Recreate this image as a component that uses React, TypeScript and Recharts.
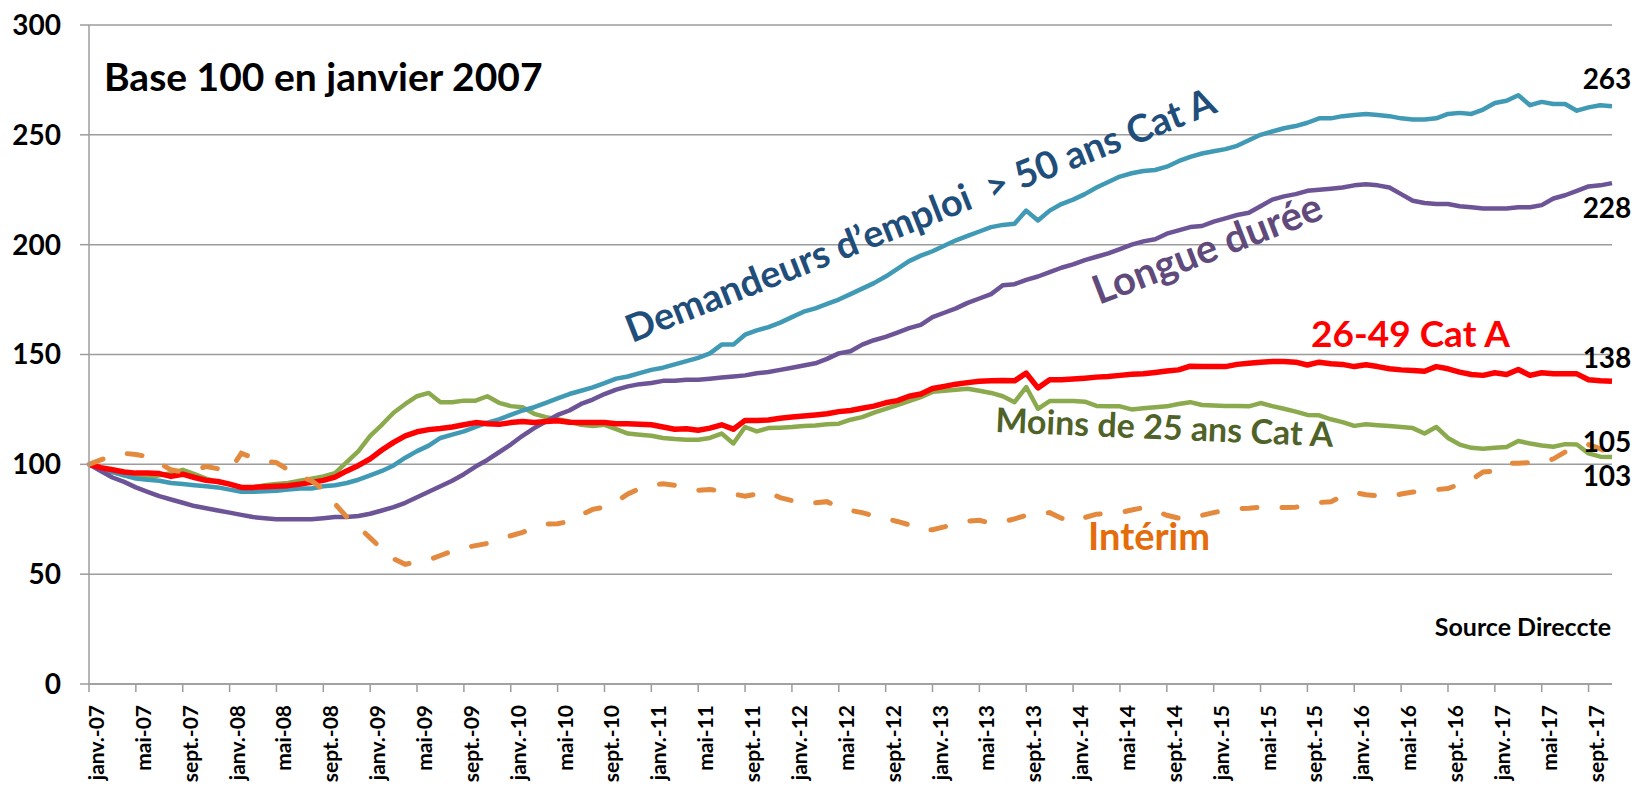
import React from "react";
import {
  LineChart,
  Line,
  XAxis,
  YAxis,
  CartesianGrid,
  LabelList,
  Customized,
} from "recharts";

// mois janv.-07 -> nov.-17
const MONTHS = ["janv.", "févr.", "mars", "avr.", "mai", "juin", "juil.", "août", "sept.", "oct.", "nov.", "déc."];
const YEARS = ["07", "08", "09", "10", "11", "12", "13", "14", "15", "16", "17"];
const categories = YEARS.flatMap((y) => MONTHS.map((m) => `${m}-${y}`)).slice(0, 131);

const yTicks = [0, 50, 100, 150, 200, 250, 300];

// Demandeurs d'emploi > 50 ans Cat A
const plus50 = [
  100, 98, 96.5, 95, 93.5, 93, 92.5, 91.5, 91, 90.5, 90, 89.5, 88.5, 87.5, 87.5, 87.8, 88, 88.5, 89, 89,
  90, 90.5, 91.5, 93, 95, 97, 99.5, 103, 106, 108.5, 112, 113.5, 115, 117, 119, 120.5, 122.5, 124.5, 126, 128,
  130, 132, 133.5, 135, 137, 139, 140, 141.5, 143, 144, 145.5, 147, 148.5, 150.5, 154.5, 154.5, 159, 161, 162.5, 164.5,
  167, 169.5, 171, 173, 175, 177.5, 180, 182.5, 185.5, 189, 192.5, 195, 197, 199.5, 202, 204, 206, 208, 209, 209.5,
  215.5, 211, 215.5, 218.5, 220.5, 223, 226, 228.5, 231, 232.5, 233.5, 234, 235.5, 238, 240, 241.5, 242.5, 243.5, 245, 247.5,
  250, 251.5, 253, 254, 255.5, 257.5, 257.5, 258.5, 259, 259.5, 259, 258.5, 257.5, 257, 257, 257.5, 259.5, 260, 259.5, 261.5,
  264.5, 265.5, 268, 263.5, 265, 264, 264, 261, 262.5, 263.5, 263,
];

// Longue durée
const longueDuree = [
  100, 97, 94, 92, 89.5, 87.5, 85.5, 84, 82.5, 81, 80, 79, 78, 77, 76, 75.5, 75, 75, 75, 75,
  75.5, 76, 76, 76.5, 77.5, 79, 80.5, 82.5, 85, 87.5, 90, 92.5, 95.5, 99, 102, 105.5, 109, 113, 116.5, 119.5,
  122.5, 124.5, 127.5, 129.5, 132, 134, 135.5, 136.5, 137, 138, 138, 138.5, 138.5, 139, 139.5, 140, 140.5, 141.5, 142, 143,
  144, 145, 146, 148, 150.5, 151.5, 154.5, 156.5, 158, 160, 162, 163.5, 167, 169, 171, 173.5, 175.5, 177.5, 181.5, 182,
  184, 185.5, 187.5, 189.5, 191, 193, 194.5, 196, 198, 200, 201.5, 202.5, 205, 206.5, 208, 208.5, 210.5, 212, 213.5, 214.5,
  217.5, 220.5, 222, 223, 224.5, 225, 225.5, 226, 227, 227.5, 227, 226, 223, 220, 219, 218.5, 218.5, 217.5, 217, 216.5,
  216.5, 216.5, 217, 217, 218, 221, 222.5, 224.5, 226.5, 227, 228,
];

// 26-49 Cat A
const age2649 = [
  100, 98.5, 97.5, 96.5, 96, 96, 95.8, 94.5, 95.5, 94, 92.7, 92.2, 91, 89.5, 89.5, 89.8, 90, 90.3, 91, 91.8,
  92.7, 94.2, 97, 99.5, 102.5, 106.5, 110, 113, 114.8, 115.8, 116.3, 117, 118, 119, 118.5, 118.2, 119, 119.5, 119, 119.5,
  119.8, 119.2, 119, 119, 119, 118.5, 118.5, 118.2, 118, 117, 116, 116.2, 115.5, 116.5, 118, 116, 120, 120, 120.2, 121,
  121.5, 122, 122.5, 123, 124, 124.5, 125.5, 126.5, 128, 129, 131, 132, 134.5, 135.5, 136.5, 137.2, 137.8, 138, 138.2, 138,
  141.5, 134.8, 138.5, 138.5, 138.8, 139.2, 139.7, 140, 140.5, 141, 141.2, 141.8, 142.5, 143, 144.7, 144.5, 144.5, 144.5, 145.5, 146,
  146.5, 146.8, 146.8, 146.5, 145.2, 146.5, 145.8, 145.5, 144.5, 145.3, 144.5, 143.5, 143, 142.7, 142.4, 144.5, 143.5, 142, 140.9, 140.5,
  141.7, 140.9, 143.2, 140.5, 141.7, 141.2, 141.2, 141.2, 138.5, 138, 137.8,
];

// Moins de 25 ans Cat A
const moins25 = [
  100, 98, 96.5, 95, 94, 94, 95, 96, 97.5, 95.5, 93.5, 92, 91, 89.5, 89.5, 90.5, 91, 91.5, 92.5, 93.5,
  94.5, 96, 101, 106, 113, 118, 123.5, 127.5, 131, 132.5, 128.3, 128.3, 129, 129, 131, 128, 126.5, 126, 123, 121.5,
  120.5, 119.5, 118, 117.5, 118, 116, 114, 113.5, 113, 112, 111.5, 111.2, 111.2, 112, 114, 109.5, 117, 115, 116.5, 116.7,
  117, 117.5, 117.7, 118.2, 118.5, 120.3, 121.5, 123.5, 125.3, 127, 128.8, 130.6, 133, 133.5, 134, 134.4, 133.5, 132.5, 131, 128.3,
  135.2, 125.3, 128.8, 128.8, 128.8, 128.5, 126.6, 126.4, 126.4, 125, 125.5, 126, 126.4, 127.5, 128.3, 127, 126.8, 126.6, 126.5, 126.4,
  127.9, 126.5, 125.3, 124, 122.5, 122.3, 120.5, 119.2, 117.5, 118.2, 117.8, 117.4, 117, 116.5, 114, 117, 112, 109, 107.5, 107.1,
  107.5, 107.9, 110.6, 109.5, 108.6, 108, 109.2, 109, 105, 103.5, 103.3,
];

// Intérim
const interim = [
  100, 102, 104, 105, 104.5, 103.5, 100.5, 97.5, 96.5, 97.5, 99, 98, 97, 105, 103, 101.5, 100.8, 97.5, 94.5, 92.5,
  88.5, 82, 76, 71.5, 66.5, 61.5, 57, 54.5, 55.5, 56.5, 58.5, 60.5, 62, 63, 64, 66, 67.5, 69, 71, 72.8,
  73, 74, 77, 79.5, 80.5, 83, 86.5, 89, 90.5, 91.2, 90.5, 89, 88.2, 88.5, 87.9, 86.5, 85.5, 86.5, 87.4, 84.8,
  83.5, 82.1, 82.5, 83, 80.5, 79, 78, 76.5, 75.3, 74, 72.5, 70, 70.2, 71.5, 73, 74.2, 74.5, 73.2, 73.8, 75.2,
  76.8, 77.3, 78, 75.5, 73.8, 75.8, 77.3, 77.6, 78, 79.2, 80.3, 79, 76.8, 75.5, 75.5, 76.8, 78, 79.2, 79.8, 80,
  80.5, 80.6, 80.3, 80.5, 81.6, 82.6, 83, 85.5, 87.2, 86.2, 85.7, 85.2, 86.5, 87.4, 87.9, 88.5, 89, 91, 93, 96.5,
  97, 100.5, 100.5, 100.8, 100.6, 102.5, 105.6, 107.5, 109, 107, 105,
];

const LAST = categories.length - 1;

const chartData = categories.map((month, i) => ({
  month,
  plus50: plus50[i],
  longue: longueDuree[i],
  age2649: age2649[i],
  moins25: moins25[i],
  interim: interim[i],
}));

const FONT = "Lato, 'Noto Sans', sans-serif";
const GRID = "#9C9C9C";

function MonthTick({ x, y, payload }: any) {
  return (
    <text
      transform={`translate(${x},${y}) rotate(-90)`}
      x={-11}
      dy={15}
      textAnchor="end"
      fontSize={21}
      fontWeight={700}
      fontFamily={FONT}
      fill="#000"
    >
      {payload.value}
    </text>
  );
}

const endLabel = (dy: number) => (props: any) => {
  const { x, y, index, value } = props;
  if (index !== LAST || value == null) return null;
  return (
    <text
      x={x - 5}
      y={y + dy}
      textAnchor="middle"
      dominantBaseline="central"
      fontSize={28}
      fontWeight={700}
      fontFamily={FONT}
      fill="#000"
    >
      {Math.round(value)}
    </text>
  );
};

function Annotations() {
  const common = { fontWeight: 700, fontFamily: FONT };
  return (
    <g>
      <text x={104} y={91} fontSize={39} fill="#000" {...common}>
        Base 100 en janvier 2007
      </text>
      <text x={632} y={343} fontSize={38} fill="#1F4E7A" transform="rotate(-21.5 632 343)" {...common}>
        {"Demandeurs d’emploi \u00A0> 50 ans Cat A"}
      </text>
      <text x={1099} y={305} fontSize={40} fill="#604A7B" transform="rotate(-21 1099 305)" {...common}>
        Longue durée
      </text>
      <text x={1311} y={347} fontSize={37} fill="#FF0000" {...common}>
        26-49 Cat A
      </text>
      <text x={995} y={432} fontSize={34} fill="#4F6228" transform="rotate(2.5 995 432)" {...common}>
        Moins de 25 ans Cat A
      </text>
      <text x={1088} y={550} fontSize={38} fill="#E46C0A" {...common}>
        Intérim
      </text>
      <text x={1611} y={636} fontSize={25} fill="#000" textAnchor="end" {...common}>
        Source Direccte
      </text>
    </g>
  );
}

export default function App() {
  return (
    <div style={{ position: "absolute", left: 0, top: 0, width: 1640, height: 792, background: "#fff" }}>
      <LineChart
        width={1640}
        height={792}
        data={chartData}
        margin={{ top: 25, right: 28, bottom: 8, left: 9 }}
      >
        <CartesianGrid vertical={false} stroke={GRID} strokeWidth={1.5} />
        <XAxis
          dataKey="month"
          interval={3}
          tickSize={8}
          tickMargin={2}
          height={100}
          tick={<MonthTick />}
          axisLine={{ stroke: GRID, strokeWidth: 1.5 }}
          tickLine={{ stroke: GRID, strokeWidth: 1.5 }}
        />
        <YAxis
          domain={[0, 300]}
          ticks={yTicks}
          interval={0}
          width={80}
          tickSize={9}
          tickMargin={19}
          axisLine={{ stroke: GRID, strokeWidth: 1.5 }}
          tickLine={{ stroke: GRID, strokeWidth: 1.5 }}
          tick={{ fontSize: 28, fontWeight: 700, fill: "#000", fontFamily: FONT }}
        />
        <Line type="linear" dataKey="moins25" stroke="#8BAA4D" strokeWidth={4.5} dot={false} strokeLinejoin="round" isAnimationActive={false}>
          <LabelList dataKey="moins25" content={endLabel(18)} />
        </Line>
        <Line type="linear" dataKey="plus50" stroke="#409AB6" strokeWidth={4.5} dot={false} strokeLinejoin="round" isAnimationActive={false}>
          <LabelList dataKey="plus50" content={endLabel(-28)} />
        </Line>
        <Line type="linear" dataKey="longue" stroke="#6C5497" strokeWidth={4.5} dot={false} strokeLinejoin="round" isAnimationActive={false}>
          <LabelList dataKey="longue" content={endLabel(24)} />
        </Line>
        <Line type="linear" dataKey="age2649" stroke="#FF0000" strokeWidth={5.5} dot={false} strokeLinejoin="round" isAnimationActive={false}>
          <LabelList dataKey="age2649" content={endLabel(-24)} />
        </Line>
        <Line
          type="linear"
          dataKey="interim"
          stroke="#E38A3F"
          strokeWidth={5}
          strokeDasharray="15 25"
          strokeLinecap="round"
          dot={false}
          isAnimationActive={false}
        >
          <LabelList dataKey="interim" content={endLabel(-12)} />
        </Line>
        <Customized component={Annotations} />
      </LineChart>
    </div>
  );
}
